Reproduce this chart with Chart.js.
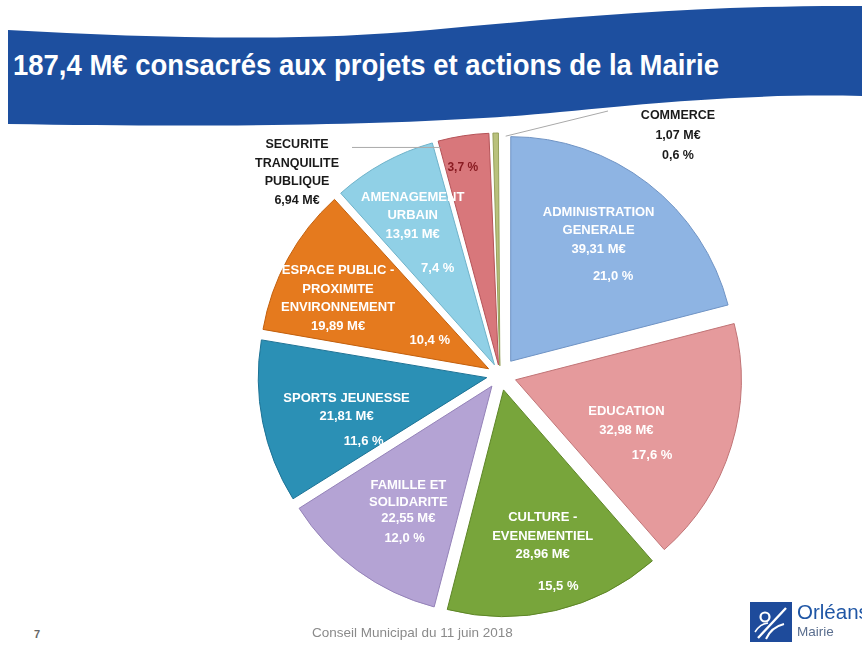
<!DOCTYPE html>
<html lang="fr">
<head>
<meta charset="utf-8">
<title>187,4 M€ consacrés aux projets et actions de la Mairie</title>
<script src="https://cdn.jsdelivr.net/npm/chart.js@4.4.0/dist/chart.umd.min.js"></script>
<style>
  html, body { margin: 0; padding: 0; background: #fff; }
  body { width: 862px; height: 648px; position: relative; overflow: hidden; font-family: "Liberation Sans", Arial, sans-serif; }
  #banner { position: absolute; left: 0; top: 0; }
  #title { position: absolute; left: 13px; top: 50px; color: #fff; font: bold 30px/30px "Liberation Sans Narrow", "Liberation Sans", sans-serif; white-space: nowrap; transform-origin: 0 0; }
  #chartBox { position: absolute; left: 240px; top: 95px; width: 520px; height: 560px; }
  #page { position: absolute; left: 34px; top: 628px; font: bold 11px "Liberation Sans", sans-serif; color: #666; }
  #footer { position: absolute; left: 312px; top: 625px; font: 13.5px "Liberation Sans", Arial, sans-serif; color: #8a8a8a; white-space: nowrap; }
  #logo { position: absolute; left: 750px; top: 602px; }
  #logoText1 { position: absolute; left: 797px; top: 600px; font: 20.5px "Liberation Sans", sans-serif; color: #1f56a5; white-space: nowrap; }
  #logoText2 { position: absolute; left: 797px; top: 624px; font: 13.5px "Liberation Sans", sans-serif; color: #5b6f8f; white-space: nowrap; }
</style>
</head>
<body>
<svg id="banner" width="862" height="130" viewBox="0 0 862 130">
  <path d="M8 30 C150 38 300 42 430 30 C560 18 700 5 862 6 L862 96 C760 94 680 100 560 112 C440 124 250 128 8 124 Z" fill="#1d4f9f"/>
</svg>
<div id="title">187,4 M€ consacrés aux projets et actions de la Mairie</div>

<div id="chartBox"><canvas id="budgetPie" width="520" height="560"></canvas></div>

<div id="page">7</div>
<div id="footer">Conseil Municipal du 11 juin 2018</div>
<svg id="logo" width="42" height="40" viewBox="0 0 42 40">
  <rect width="42" height="40" fill="#1e4b9b"/>
  <circle cx="15" cy="15" r="4.5" fill="none" stroke="#fff" stroke-width="2.2"/>
  <path d="M8 36 L36 6" stroke="#fff" stroke-width="2.4" fill="none"/>
  <path d="M16 37 C20 28 26 24 34 22" stroke="#fff" stroke-width="2" fill="none"/>
  <path d="M5 30 C9 24 12 22 18 21" stroke="#fff" stroke-width="1.6" fill="none"/>
</svg>
<div id="logoText1">Orléans</div>
<div id="logoText2">Mairie</div>

<script>
// budget split, in M€
const categories = [
    ['ADMINISTRATION', 'GENERALE'],
    ['EDUCATION'],
    ['CULTURE -', 'EVENEMENTIEL'],
    ['FAMILLE ET', 'SOLIDARITE'],
    ['SPORTS JEUNESSE'],
    ['ESPACE PUBLIC -', 'PROXIMITE', 'ENVIRONNEMENT'],
    ['AMENAGEMENT', 'URBAIN'],
    ['SECURITE', 'TRANQUILITE', 'PUBLIQUE'],
    ['COMMERCE']
];
const amounts = [39.31, 32.98, 28.96, 22.55, 21.81, 19.89, 13.91, 6.94, 1.07];
const shares = ['21,0 %', '17,6 %', '15,5 %', '12,0 %', '11,6 %', '10,4 %', '7,4 %', '3,7 %', '0,6 %'];
const sliceColors = ['#8eb4e3', '#e59a9c', '#78a53b', '#b4a3d4', '#2b90b5', '#e57a1e', '#90d0e6', '#d8777b', '#b9c17c'];
const edgeColors  = ['#6f93c4', '#c07476', '#5d8526', '#9482b8', '#1c7295', '#c25f0c', '#6fb2c9', '#b55358', '#95a05a'];

// where the texts sit inside each slice: f = fraction along the arc, r = fraction of the radius
const placement = [
    { f: 0.45, r: 0.70, pf: 0.67, pr: 0.59 },
    { f: 0.55, r: 0.52, pf: 0.69, pr: 0.69 },
    { f: 0.47, r: 0.665, pf: 0.46, pr: 0.90 },
    { f: 0.49, r: 0.62, pf: 0.35, pr: 0.765, lineH: 16.5 },
    { f: 0.48, r: 0.62, pf: 0.10, pr: 0.60 },
    { f: 0.40, r: 0.72, pf: 0.42, pr: 0.27 },
    { f: 0.50, r: 0.73, pf: 0.43, pr: 0.47 },
    { outside: true, tx: 57, ty: 50, lineEnd: 112, pf: 0.38, pr: 0.86, pctColor: '#8a1c22' },
    { outside: true, tx: 438, ty: 21, lineEnd: 368, lineY: 16, showPct: true }
];

const EXPLODE = 18;  // px each slice is pulled out
const LINE_H = 18.5;
const total = amounts.reduce((a, b) => a + b, 0);

const money = v => v.toFixed(2).replace('.', ',') + ' M€';

// Chart.js scales the arc offset by the slice angle, undo that so every slice moves the same distance
function sliceOffset(v) {
    const circ = 2 * Math.PI * v / total;
    return 4 * EXPLODE / (2 - Math.sin(Math.min(Math.PI, circ)));
}

function drawLines(ctx, lines, x, y, lh) {
    const top = y - (lines.length - 1) * lh / 2;
    lines.forEach((t, k) => ctx.fillText(t, x, top + k * lh));
}

const sliceLabels = {
    id: 'sliceLabels',
    afterDatasetsDraw(chart) {
        const ctx = chart.ctx;
        const meta = chart.getDatasetMeta(0);
        ctx.save();
        ctx.textAlign = 'center';
        ctx.textBaseline = 'middle';
        meta.data.forEach((arc, i) => {
            const p = arc.getProps(['x', 'y', 'startAngle', 'endAngle', 'outerRadius'], true);
            const mid = (p.startAngle + p.endAngle) / 2;
            const ox = p.x + Math.cos(mid) * EXPLODE;
            const oy = p.y + Math.sin(mid) * EXPLODE;
            const at = (f, r) => {
                const a = p.startAngle + f * (p.endAngle - p.startAngle);
                return [ox + Math.cos(a) * r * p.outerRadius, oy + Math.sin(a) * r * p.outerRadius];
            };
            const pl = placement[i];
            const lines = categories[i].concat(money(amounts[i]));

            if (pl.outside) {
                // leader line from the slice rim to the text
                ctx.strokeStyle = '#a9a9a9';
                ctx.lineWidth = 1;
                ctx.beginPath();
                if (pl.showPct) {
                    const [sx, sy] = at(0.5, 0.995);
                    ctx.moveTo(sx + 10, sy + 2);
                    ctx.lineTo(pl.lineEnd, pl.lineY);
                } else {
                    const [sx, sy] = at(0.02, 0.97);
                    ctx.moveTo(sx, sy);
                    ctx.lineTo(pl.lineEnd, sy);
                }
                ctx.stroke();

                ctx.fillStyle = '#1a1a1a';
                ctx.font = 'bold 12.5px "Liberation Sans", sans-serif';
                const outLines = pl.showPct ? lines.concat(shares[i]) : lines;
                outLines.forEach((t, k) => ctx.fillText(t, pl.tx, pl.ty + k * (pl.showPct ? 20 : LINE_H)));
                if (!pl.showPct) {
                    const [px, py] = at(pl.pf, pl.pr);
                    ctx.fillStyle = pl.pctColor;
                    ctx.font = 'bold 12px "Liberation Sans", sans-serif';
                    ctx.fillText(shares[i], px, py);
                }
                return;
            }

            ctx.fillStyle = '#ffffff';
            ctx.font = 'bold 13px "Liberation Sans", sans-serif';
            const [nx, ny] = at(pl.f, pl.r);
            drawLines(ctx, lines, nx, ny, pl.lineH || LINE_H);
            const [px, py] = at(pl.pf, pl.pr);
            ctx.fillText(shares[i], px, py);
        });
        ctx.restore();
    }
};

new Chart(document.getElementById('budgetPie').getContext('2d'), {
    type: 'pie',
    data: {
        labels: categories,
        datasets: [{
            data: amounts,
            backgroundColor: sliceColors,
            borderColor: edgeColors,
            borderWidth: 1,
            offset: amounts.map(sliceOffset)
        }]
    },
    options: {
        responsive: false,
        animation: false,
        radius: 224,
        layout: { padding: 0 },
        plugins: {
            legend: { display: false },
            tooltip: { enabled: false }
        }
    },
    plugins: [sliceLabels]
});

// squeeze the heading to the banner width
const title = document.getElementById('title');
const w = title.getBoundingClientRect().width;
title.style.transform = 'scaleX(' + (706 / w) + ')';
</script>
</body>
</html>
